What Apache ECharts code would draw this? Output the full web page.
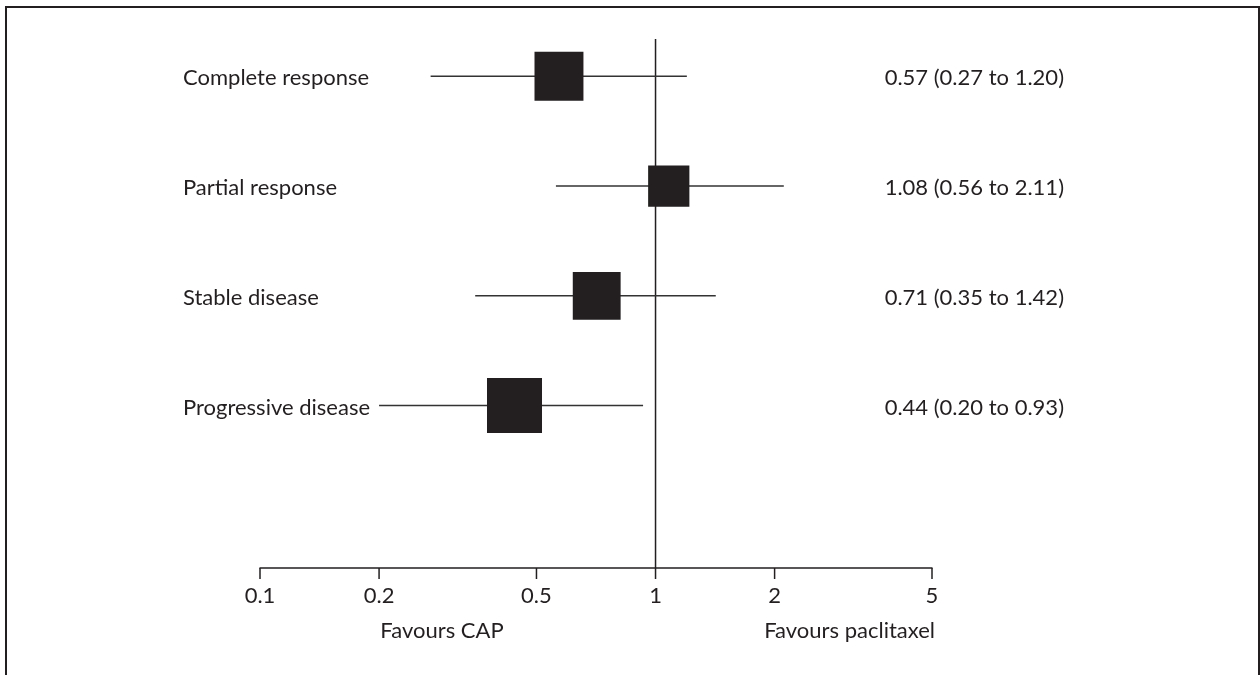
<!DOCTYPE html>
<html>
<head>
<meta charset="utf-8">
<script src="https://cdn.jsdelivr.net/npm/echarts@6/dist/echarts.min.js"></script>
<style>
  html, body { margin: 0; padding: 0; background: #fff; }
  #chart { width: 1260px; height: 675px; }
</style>
</head>
<body>
<div id="chart"></div>
<script>
// outcomes, top to bottom
const outcomes = ['Complete response', 'Partial response', 'Stable disease', 'Progressive disease'];
const estimates = [0.57, 1.08, 0.71, 0.44];
const lower = [0.27, 0.56, 0.35, 0.20];
const upper = [1.20, 2.11, 1.42, 0.93];
// relative weight of each estimate (drives box size)
const weights = [0.89, 0.75, 0.87, 1.0];
const tickValues = [0.1, 0.2, 0.5, 1, 2, 5];
const tickLabels = ['0.1', '0.2', '0.5', '1', '2', '5'];

const ink = '#231f20';
const font = '22px Lato, "Open Sans", sans-serif';
const Y_MIN = -0.48, Y_MAX = 4.34;
const MAX_BOX = 55;

const chart = echarts.init(document.getElementById('chart'));

// one row per outcome, first outcome at the top
const rows = outcomes.map((name, i) => [
  outcomes.length - i, estimates[i], lower[i], upper[i], weights[i], i
]);

const fmt = v => v.toFixed(2);

const option = {
  animation: false,
  backgroundColor: '#fff',
  grid: { left: 260, right: 328, top: 39, bottom: 107 },
  xAxis: {
    type: 'log',
    logBase: 10,
    min: 0.1,
    max: 5,
    axisLine: { show: true, onZero: false, lineStyle: { color: ink, width: 1.5 } },
    axisTick: { show: false },
    axisLabel: { show: false },
    splitLine: { show: false }
  },
  yAxis: {
    type: 'value',
    min: Y_MIN,
    max: Y_MAX,
    show: false
  },
  graphic: [
    {
      // frame, open at the bottom
      type: 'polyline',
      shape: { points: [[6, 675], [6, 7], [1259, 7], [1259, 675]] },
      style: { stroke: ink, lineWidth: 2, fill: null }
    },
    {
      type: 'text', x: 442, y: 631,
      style: { text: 'Favours CAP', font: font, fill: ink, align: 'center', verticalAlign: 'middle' }
    },
    {
      type: 'text', x: 935, y: 631,
      style: { text: 'Favours paclitaxel', font: font, fill: ink, align: 'right', verticalAlign: 'middle' }
    }
  ],
  series: [
    {
      // line of no effect
      type: 'custom',
      data: [[1, Y_MIN], [1, Y_MAX]],
      renderItem: (params, api) => {
        if (params.dataIndex !== 0) return null;
        const a = api.coord([1, Y_MIN]);
        const b = api.coord([1, Y_MAX]);
        return {
          type: 'line',
          shape: { x1: a[0], y1: a[1], x2: b[0], y2: b[1] },
          style: { stroke: ink, lineWidth: 1.5 }
        };
      },
      clip: false,
      silent: true,
      z: 1
    },
    {
      // estimates with confidence intervals
      type: 'custom',
      data: rows,
      clip: false,
      z: 3,
      renderItem: (params, api) => {
        const y = api.value(0);
        const est = api.value(1), lo = api.value(2), hi = api.value(3), w = api.value(4);
        const i = api.value(5);
        const pLo = api.coord([lo, y]);
        const pHi = api.coord([hi, y]);
        const pEst = api.coord([est, y]);
        const left = api.coord([0.1, y]);
        const right = api.coord([5, y]);
        const s = MAX_BOX * w;
        return {
          type: 'group',
          children: [
            {
              type: 'line',
              shape: { x1: pLo[0], y1: pLo[1], x2: pHi[0], y2: pHi[1] },
              style: { stroke: '#333', lineWidth: 1.5 }
            },
            {
              type: 'rect',
              shape: { x: pEst[0] - s / 2, y: pEst[1] - s / 2, width: s, height: s },
              style: { fill: ink }
            },
            {
              type: 'text',
              x: left[0] - 77, y: left[1] + 2,
              style: { text: outcomes[i], font: font, fill: ink, align: 'left', verticalAlign: 'middle' }
            },
            {
              type: 'text',
              x: right[0] + 132, y: right[1] + 2,
              style: {
                text: fmt(est) + ' (' + fmt(lo) + ' to ' + fmt(hi) + ')',
                font: font, fill: ink, align: 'right', verticalAlign: 'middle'
              }
            }
          ]
        };
      }
    },
    {
      // axis ticks and their labels
      type: 'custom',
      data: tickValues.map((v, i) => [v, Y_MIN, i]),
      clip: false,
      silent: true,
      z: 2,
      renderItem: (params, api) => {
        const p = api.coord([api.value(0), api.value(1)]);
        return {
          type: 'group',
          children: [
            {
              type: 'line',
              shape: { x1: p[0], y1: p[1], x2: p[0], y2: p[1] + 11 },
              style: { stroke: ink, lineWidth: 1.5 }
            },
            {
              type: 'text',
              x: p[0], y: p[1] + 28,
              style: { text: tickLabels[api.value(2)], font: font, fill: ink, align: 'center', verticalAlign: 'middle' }
            }
          ]
        };
      }
    }
  ]
};

chart.setOption(option);
</script>
</body>
</html>
